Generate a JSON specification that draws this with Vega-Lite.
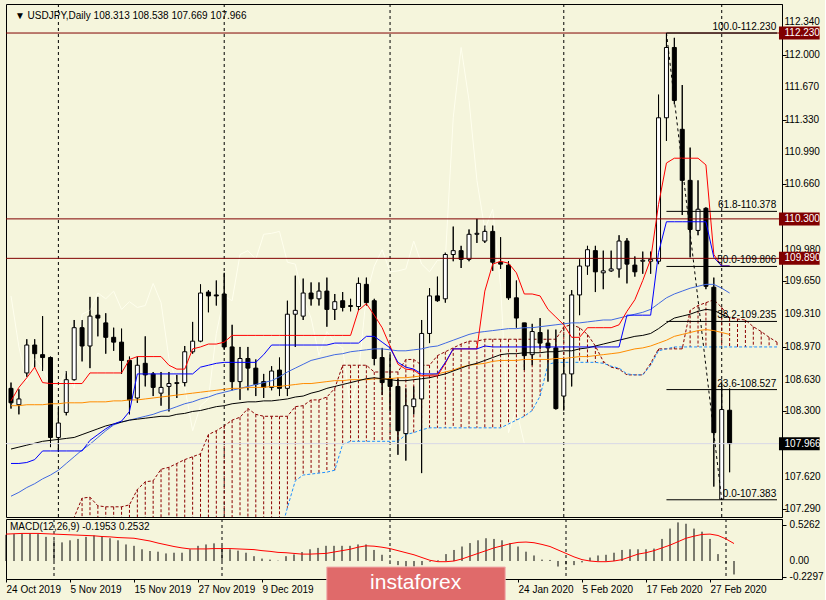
{
"$schema": "https://vega.github.io/schema/vega-lite/v6.json",
"background": "#f5f5dc",
"padding": {"left": 3, "top": 3, "right": 0, "bottom": 0},
"spacing": 0,
"datasets": {
"bars": [
{"i":0,"o":108.54,"h":108.60,"l":108.33,"c":108.39,"tk":108.41,"kj":107.76,"m1":107.42,"m2":108.36,"m3":107.91,"ch":109.50,"md":0.38,"sg":0.39},
{"i":1,"o":108.37,"h":108.53,"l":108.27,"c":108.43,"tk":108.55,"kj":107.76,"m1":107.46,"m2":108.36,"m3":107.93,"ch":108.97,"md":0.39,"sg":0.395},
{"i":2,"o":108.70,"h":109.05,"l":108.66,"c":108.99,"tk":108.65,"kj":107.77,"m1":107.51,"m2":108.37,"m3":107.95,"ch":108.61,"md":0.40,"sg":0.40},
{"i":3,"o":108.99,"h":109.05,"l":108.76,"c":108.90,"tk":108.76,"kj":107.80,"m1":107.55,"m2":108.37,"m3":107.97,"ch":108.85,"md":0.40,"sg":0.40},
{"i":4,"o":108.89,"h":109.29,"l":108.72,"c":108.86,"tk":108.60,"kj":107.89,"m1":107.60,"m2":108.37,"m3":107.99,"ch":108.75,"md":0.39,"sg":0.40},
{"i":5,"o":108.86,"h":108.87,"l":107.93,"c":108.03,"tk":108.59,"kj":107.89,"m1":107.64,"m2":108.38,"m3":108.00,"ch":108.58,"md":0.35,"sg":0.395},
{"i":6,"o":108.03,"h":108.34,"l":107.88,"c":108.18,"tk":108.59,"kj":107.89,"m1":107.69,"m2":108.38,"m3":108.01,"ch":108.55,"md":0.30,"sg":0.39},
{"i":7,"o":108.29,"h":108.72,"l":108.26,"c":108.63,"tk":108.59,"kj":107.89,"m1":107.76,"m2":108.39,"m3":108.02,"ch":108.72,"md":0.27,"sg":0.385},
{"i":8,"o":108.63,"h":109.25,"l":108.62,"c":109.17,"tk":108.59,"kj":107.89,"m1":107.83,"m2":108.39,"m3":108.03,"ch":108.54,"md":0.30,"sg":0.38},
{"i":9,"o":109.17,"h":109.25,"l":108.82,"c":108.98,"tk":108.59,"kj":107.89,"m1":107.90,"m2":108.39,"m3":108.06,"ch":109.31,"md":0.32,"sg":0.375},
{"i":10,"o":108.98,"h":109.49,"l":108.75,"c":109.29,"tk":108.70,"kj":108.00,"m1":107.96,"m2":108.40,"m3":108.09,"ch":109.35,"md":0.35,"sg":0.37},
{"i":11,"o":109.30,"h":109.49,"l":109.08,"c":109.27,"tk":108.70,"kj":108.06,"m1":108.03,"m2":108.40,"m3":108.12,"ch":109.53,"md":0.37,"sg":0.365},
{"i":12,"o":109.22,"h":109.32,"l":108.90,"c":109.07,"tk":108.70,"kj":108.12,"m1":108.10,"m2":108.40,"m3":108.15,"ch":109.47,"md":0.36,"sg":0.355},
{"i":13,"o":109.07,"h":109.17,"l":108.93,"c":109.02,"tk":108.70,"kj":108.17,"m1":108.16,"m2":108.41,"m3":108.17,"ch":109.55,"md":0.33,"sg":0.35},
{"i":14,"o":109.02,"h":109.16,"l":108.69,"c":108.83,"tk":108.70,"kj":108.20,"m1":108.19,"m2":108.41,"m3":108.19,"ch":109.36,"md":0.30,"sg":0.34},
{"i":15,"o":108.83,"h":108.87,"l":108.27,"c":108.42,"tk":108.84,"kj":108.30,"m1":108.21,"m2":108.42,"m3":108.21,"ch":109.44,"md":0.24,"sg":0.335},
{"i":16,"o":108.44,"h":108.87,"l":108.39,"c":108.78,"tk":108.87,"kj":108.69,"m1":108.23,"m2":108.42,"m3":108.22,"ch":109.38,"md":0.22,"sg":0.33},
{"i":17,"o":108.80,"h":109.08,"l":108.56,"c":108.68,"tk":108.87,"kj":108.69,"m1":108.25,"m2":108.43,"m3":108.23,"ch":109.40,"md":0.17,"sg":0.31},
{"i":18,"o":108.69,"h":108.71,"l":108.46,"c":108.55,"tk":108.87,"kj":108.69,"m1":108.27,"m2":108.44,"m3":108.24,"ch":109.63,"md":0.145,"sg":0.29},
{"i":19,"o":108.49,"h":108.71,"l":108.36,"c":108.55,"tk":108.87,"kj":108.69,"m1":108.30,"m2":108.45,"m3":108.25,"ch":109.43,"md":0.135,"sg":0.26},
{"i":20,"o":108.56,"h":108.71,"l":108.30,"c":108.59,"tk":108.78,"kj":108.69,"m1":108.32,"m2":108.46,"m3":108.25,"ch":108.85,"md":0.11,"sg":0.235},
{"i":21,"o":108.59,"h":108.68,"l":108.44,"c":108.60,"tk":108.74,"kj":108.69,"m1":108.35,"m2":108.47,"m3":108.27,"ch":108.60,"md":0.12,"sg":0.21},
{"i":22,"o":108.60,"h":108.98,"l":108.56,"c":108.92,"tk":108.74,"kj":108.69,"m1":108.38,"m2":108.48,"m3":108.28,"ch":108.56,"md":0.12,"sg":0.19},
{"i":23,"o":108.92,"h":109.23,"l":108.90,"c":109.03,"tk":108.95,"kj":108.69,"m1":108.40,"m2":108.49,"m3":108.30,"ch":108.10,"md":0.17,"sg":0.175},
{"i":24,"o":109.03,"h":109.62,"l":109.02,"c":109.53,"tk":108.97,"kj":108.76,"m1":108.43,"m2":108.50,"m3":108.31,"ch":108.36,"md":0.22,"sg":0.175},
{"i":25,"o":109.54,"h":109.56,"l":109.33,"c":109.50,"tk":109.00,"kj":108.78,"m1":108.45,"m2":108.51,"m3":108.33,"ch":108.43,"md":0.24,"sg":0.175},
{"i":26,"o":109.51,"h":109.66,"l":109.40,"c":109.50,"tk":109.00,"kj":108.80,"m1":108.48,"m2":108.52,"m3":108.35,"ch":109.11,"md":0.256,"sg":0.18},
{"i":27,"o":109.52,"h":109.74,"l":108.94,"c":108.97,"tk":109.02,"kj":108.81,"m1":108.50,"m2":108.53,"m3":108.36,"ch":109.50,"md":0.22,"sg":0.18},
{"i":28,"o":108.97,"h":109.20,"l":108.52,"c":108.61,"tk":109.09,"kj":108.81,"m1":108.52,"m2":108.54,"m3":108.38,"ch":109.45,"md":0.17,"sg":0.18},
{"i":29,"o":108.61,"h":108.97,"l":108.42,"c":108.85,"tk":109.09,"kj":108.81,"m1":108.54,"m2":108.54,"m3":108.39,"ch":109.93,"md":0.15,"sg":0.175},
{"i":30,"o":108.85,"h":108.97,"l":108.52,"c":108.75,"tk":109.09,"kj":108.81,"m1":108.56,"m2":108.55,"m3":108.40,"ch":109.97,"md":0.12,"sg":0.17},
{"i":31,"o":108.75,"h":108.84,"l":108.46,"c":108.58,"tk":109.09,"kj":108.81,"m1":108.58,"m2":108.55,"m3":108.40,"ch":109.88,"md":0.07,"sg":0.165},
{"i":32,"o":108.61,"h":108.69,"l":108.44,"c":108.55,"tk":109.09,"kj":108.89,"m1":108.60,"m2":108.55,"m3":108.41,"ch":110.14,"md":0.035,"sg":0.15},
{"i":33,"o":108.55,"h":108.77,"l":108.52,"c":108.72,"tk":109.09,"kj":108.99,"m1":108.62,"m2":108.56,"m3":108.41,"ch":110.15,"md":0.02,"sg":0.14},
{"i":34,"o":108.73,"h":108.86,"l":108.46,"c":108.54,"tk":109.09,"kj":108.99,"m1":108.66,"m2":108.56,"m3":108.42,"ch":110.17,"md":0.005,"sg":0.125},
{"i":35,"o":108.54,"h":109.45,"l":108.46,"c":109.31,"tk":109.09,"kj":108.99,"m1":108.71,"m2":108.57,"m3":108.43,"ch":109.85,"md":0.07,"sg":0.12},
{"i":36,"o":109.31,"h":109.71,"l":108.97,"c":109.35,"tk":109.09,"kj":108.99,"m1":108.75,"m2":108.58,"m3":108.45,"ch":109.83,"md":0.095,"sg":0.11},
{"i":37,"o":109.29,"h":109.68,"l":109.25,"c":109.53,"tk":109.09,"kj":108.99,"m1":108.79,"m2":108.59,"m3":108.46,"ch":109.48,"md":0.13,"sg":0.10},
{"i":38,"o":109.53,"h":109.64,"l":109.40,"c":109.47,"tk":109.09,"kj":108.99,"m1":108.83,"m2":108.59,"m3":108.49,"ch":109.27,"md":0.17,"sg":0.10},
{"i":39,"o":109.47,"h":109.64,"l":109.40,"c":109.55,"tk":109.09,"kj":108.99,"m1":108.85,"m2":108.60,"m3":108.51,"ch":108.88,"md":0.19,"sg":0.105},
{"i":40,"o":109.55,"h":109.69,"l":109.18,"c":109.36,"tk":109.09,"kj":108.99,"m1":108.87,"m2":108.61,"m3":108.54,"ch":109.13,"md":0.22,"sg":0.11},
{"i":41,"o":109.36,"h":109.52,"l":109.25,"c":109.44,"tk":109.09,"kj":109.01,"m1":108.89,"m2":108.62,"m3":108.56,"ch":109.01,"md":0.22,"sg":0.13},
{"i":42,"o":109.45,"h":109.54,"l":109.34,"c":109.38,"tk":109.09,"kj":109.01,"m1":108.90,"m2":108.62,"m3":108.58,"ch":108.96,"md":0.22,"sg":0.15},
{"i":43,"o":109.39,"h":109.47,"l":109.34,"c":109.40,"tk":109.09,"kj":109.01,"m1":108.92,"m2":108.63,"m3":108.60,"ch":108.33,"md":0.22,"sg":0.17},
{"i":44,"o":109.39,"h":109.69,"l":109.35,"c":109.63,"tk":109.35,"kj":109.01,"m1":108.93,"m2":108.63,"m3":108.62,"ch":108.69,"md":0.24,"sg":0.20},
{"i":45,"o":109.62,"h":109.69,"l":109.40,"c":109.43,"tk":109.42,"kj":109.08,"m1":108.94,"m2":108.63,"m3":108.64,"ch":109.51,"md":0.24,"sg":0.22},
{"i":46,"o":109.45,"h":109.47,"l":108.78,"c":108.85,"tk":109.30,"kj":109.08,"m1":108.95,"m2":108.64,"m3":108.65,"ch":109.81,"md":0.16,"sg":0.215},
{"i":47,"o":108.86,"h":108.96,"l":108.47,"c":108.60,"tk":109.17,"kj":109.02,"m1":108.95,"m2":108.64,"m3":108.64,"ch":109.98,"md":0.09,"sg":0.20},
{"i":48,"o":108.64,"h":108.89,"l":108.30,"c":108.56,"tk":108.98,"kj":108.96,"m1":108.94,"m2":108.64,"m3":108.63,"ch":109.75,"md":0.01,"sg":0.18},
{"i":49,"o":108.56,"h":108.64,"l":107.85,"c":108.10,"tk":108.79,"kj":108.81,"m1":108.93,"m2":108.65,"m3":108.62,"ch":109.76,"md":-0.06,"sg":0.15},
{"i":50,"o":108.07,"h":108.54,"l":107.79,"c":108.36,"tk":108.74,"kj":108.76,"m1":108.93,"m2":108.65,"m3":108.62,"ch":109.78,"md":-0.08,"sg":0.12},
{"i":51,"o":108.35,"h":108.56,"l":108.27,"c":108.43,"tk":108.73,"kj":108.74,"m1":108.94,"m2":108.66,"m3":108.63,"ch":110.07,"md":-0.08,"sg":0.09},
{"i":52,"o":108.43,"h":109.25,"l":107.66,"c":109.11,"tk":108.67,"kj":108.69,"m1":108.95,"m2":108.67,"m3":108.64,"ch":109.83,"md":-0.06,"sg":0.05},
{"i":53,"o":109.11,"h":109.58,"l":109.01,"c":109.50,"tk":108.67,"kj":108.69,"m1":108.97,"m2":108.68,"m3":108.65,"ch":109.75,"md":-0.01,"sg":0.01},
{"i":54,"o":109.50,"h":109.70,"l":109.44,"c":109.45,"tk":108.67,"kj":108.69,"m1":108.98,"m2":108.69,"m3":108.67,"ch":109.87,"md":0.01,"sg":-0.01},
{"i":55,"o":109.47,"h":109.95,"l":109.43,"c":109.93,"tk":108.80,"kj":108.81,"m1":109.01,"m2":108.71,"m3":108.69,"ch":109.88,"md":0.10,"sg":-0.01},
{"i":56,"o":109.93,"h":110.22,"l":109.86,"c":109.97,"tk":108.95,"kj":108.95,"m1":109.04,"m2":108.73,"m3":108.72,"ch":111.35,"md":0.16,"sg":0.0},
{"i":57,"o":109.97,"h":110.02,"l":109.79,"c":109.88,"tk":108.95,"kj":108.95,"m1":109.07,"m2":108.76,"m3":108.75,"ch":112.08,"md":0.21,"sg":0.03},
{"i":58,"o":109.88,"h":110.19,"l":109.86,"c":110.14,"tk":108.95,"kj":108.95,"m1":109.10,"m2":108.78,"m3":108.78,"ch":111.53,"md":0.26,"sg":0.07},
{"i":59,"o":110.14,"h":110.30,"l":110.05,"c":110.15,"tk":108.95,"kj":108.95,"m1":109.12,"m2":108.79,"m3":108.80,"ch":110.70,"md":0.30,"sg":0.11},
{"i":60,"o":110.07,"h":110.23,"l":110.05,"c":110.17,"tk":109.55,"kj":108.98,"m1":109.13,"m2":108.80,"m3":108.83,"ch":110.19,"md":0.33,"sg":0.15},
{"i":61,"o":110.17,"h":110.23,"l":109.76,"c":109.85,"tk":109.83,"kj":108.97,"m1":109.14,"m2":108.82,"m3":108.86,"ch":110.40,"md":0.32,"sg":0.19},
{"i":62,"o":109.85,"h":110.11,"l":109.78,"c":109.83,"tk":109.86,"kj":108.97,"m1":109.15,"m2":108.83,"m3":108.89,"ch":109.60,"md":0.30,"sg":0.22},
{"i":63,"o":109.82,"h":109.86,"l":109.46,"c":109.48,"tk":109.84,"kj":108.97,"m1":109.16,"m2":108.83,"m3":108.90,"ch":108.08,"md":0.26,"sg":0.25},
{"i":64,"o":109.48,"h":109.66,"l":109.17,"c":109.27,"tk":109.74,"kj":108.97,"m1":109.16,"m2":108.83,"m3":108.90,"ch":108.32,"md":0.21,"sg":0.27},
{"i":65,"o":109.22,"h":109.22,"l":108.73,"c":108.88,"tk":109.52,"kj":108.97,"m1":109.17,"m2":108.84,"m3":108.91,"ch":107.966,"md":0.135,"sg":0.275},
{"i":66,"o":108.89,"h":109.21,"l":108.78,"c":109.13,"tk":109.52,"kj":108.97,"m1":109.17,"m2":108.84,"m3":108.91,"md":0.08,"sg":0.265},
{"i":67,"o":109.12,"h":109.27,"l":108.95,"c":109.01,"tk":109.50,"kj":108.97,"m1":109.18,"m2":108.84,"m3":108.91,"md":0.02,"sg":0.24},
{"i":68,"o":109.01,"h":109.15,"l":108.61,"c":108.96,"tk":109.36,"kj":108.97,"m1":109.19,"m2":108.84,"m3":108.92,"md":0.015,"sg":0.21},
{"i":69,"o":108.96,"h":109.15,"l":108.32,"c":108.33,"tk":109.28,"kj":108.97,"m1":109.20,"m2":108.85,"m3":108.92,"md":-0.08,"sg":0.16},
{"i":70,"o":108.46,"h":108.85,"l":108.31,"c":108.69,"tk":109.20,"kj":108.97,"m1":109.21,"m2":108.85,"m3":108.93,"md":-0.05,"sg":0.11},
{"i":71,"o":108.69,"h":109.56,"l":108.56,"c":109.51,"tk":109.07,"kj":108.97,"m1":109.22,"m2":108.86,"m3":108.93,"md":-0.06,"sg":0.06},
{"i":72,"o":109.51,"h":109.88,"l":109.30,"c":109.81,"tk":109.07,"kj":108.97,"m1":109.22,"m2":108.87,"m3":108.95,"md":-0.02,"sg":0.02},
{"i":73,"o":109.81,"h":110.02,"l":109.72,"c":109.98,"tk":109.17,"kj":108.97,"m1":109.23,"m2":108.87,"m3":108.96,"md":0.05,"sg":0.0},
{"i":74,"o":109.97,"h":110.02,"l":109.54,"c":109.75,"tk":109.17,"kj":108.97,"m1":109.24,"m2":108.88,"m3":108.98,"md":0.08,"sg":-0.01},
{"i":75,"o":109.74,"h":109.97,"l":109.57,"c":109.76,"tk":109.17,"kj":108.97,"m1":109.25,"m2":108.89,"m3":109.00,"md":0.09,"sg":-0.01},
{"i":76,"o":109.76,"h":109.97,"l":109.75,"c":109.78,"tk":109.17,"kj":108.97,"m1":109.25,"m2":108.90,"m3":109.02,"md":0.12,"sg":0.0},
{"i":77,"o":109.78,"h":110.13,"l":109.69,"c":110.07,"tk":109.20,"kj":108.97,"m1":109.27,"m2":108.91,"m3":109.04,"md":0.16,"sg":0.02},
{"i":78,"o":110.07,"h":110.10,"l":109.63,"c":109.83,"tk":109.34,"kj":109.30,"m1":109.29,"m2":108.93,"m3":109.06,"md":0.17,"sg":0.06},
{"i":79,"o":109.82,"h":109.91,"l":109.70,"c":109.75,"tk":109.46,"kj":109.30,"m1":109.31,"m2":108.95,"m3":109.08,"md":0.17,"sg":0.10},
{"i":80,"o":109.86,"h":109.96,"l":109.73,"c":109.87,"tk":109.66,"kj":109.30,"m1":109.33,"m2":108.96,"m3":109.09,"md":0.17,"sg":0.12},
{"i":81,"o":109.86,"h":109.96,"l":109.73,"c":109.88,"tk":109.88,"kj":109.30,"m1":109.36,"m2":108.98,"m3":109.11,"md":0.18,"sg":0.15},
{"i":82,"o":109.86,"h":111.59,"l":109.83,"c":111.35,"tk":110.45,"kj":109.95,"m1":109.42,"m2":109.01,"m3":109.16,"md":0.32,"sg":0.19},
{"i":83,"o":111.35,"h":112.23,"l":111.11,"c":112.08,"tk":110.88,"kj":110.27,"m1":109.48,"m2":109.04,"m3":109.22,"md":0.47,"sg":0.23},
{"i":84,"o":112.08,"h":112.18,"l":111.49,"c":111.53,"tk":110.93,"kj":110.27,"m1":109.52,"m2":109.08,"m3":109.27,"md":0.56,"sg":0.28},
{"i":85,"o":111.23,"h":111.69,"l":110.34,"c":110.70,"tk":110.93,"kj":110.27,"m1":109.55,"m2":109.10,"m3":109.29,"md":0.54,"sg":0.33},
{"i":86,"o":110.70,"h":111.04,"l":109.90,"c":110.19,"tk":110.93,"kj":110.27,"m1":109.58,"m2":109.12,"m3":109.31,"md":0.47,"sg":0.36},
{"i":87,"o":110.18,"h":110.70,"l":110.13,"c":110.40,"tk":110.93,"kj":110.27,"m1":109.60,"m2":109.14,"m3":109.34,"md":0.425,"sg":0.385},
{"i":88,"o":110.41,"h":110.42,"l":109.57,"c":109.60,"tk":110.86,"kj":110.27,"m1":109.62,"m2":109.15,"m3":109.36,"md":0.32,"sg":0.39},
{"i":89,"o":109.59,"h":109.69,"l":107.52,"c":108.08,"tk":109.93,"kj":109.90,"m1":109.62,"m2":109.14,"m3":109.35,"md":0.10,"sg":0.37},
{"i":90,"o":107.39,"h":108.59,"l":107.383,"c":108.32,"tk":109.81,"kj":109.81,"m1":109.58,"m2":109.12,"m3":109.31,"md":-0.03,"sg":0.32},
{"i":91,"o":108.313,"h":108.538,"l":107.669,"c":107.966,"tk":109.81,"kj":109.81,"m1":109.53,"m2":109.10,"m3":109.27,"md":-0.1953,"sg":0.2532}
],
"cloud": [
{"i":0,"a":107.05,"b":106.9},{"i":1,"a":107.05,"b":106.9},{"i":2,"a":107.05,"b":106.9},{"i":3,"a":107.05,"b":106.9},{"i":4,"a":107.05,"b":106.9},{"i":5,"a":107.05,"b":106.9},{"i":6,"a":107.05,"b":106.9},{"i":7,"a":107.05,"b":106.9},
{"i":8,"a":107.20,"b":106.9},{"i":9,"a":107.40,"b":106.9},{"i":10,"a":107.41,"b":106.9},{"i":11,"a":107.32,"b":106.9},{"i":12,"a":107.31,"b":106.9},{"i":13,"a":107.31,"b":106.9},{"i":14,"a":107.31,"b":106.9},{"i":15,"a":107.33,"b":106.9},
{"i":16,"a":107.49,"b":106.9},{"i":17,"a":107.57,"b":106.9},{"i":18,"a":107.58,"b":106.9},{"i":19,"a":107.70,"b":106.9},{"i":20,"a":107.72,"b":106.9},{"i":21,"a":107.76,"b":106.9},{"i":22,"a":107.80,"b":106.9},{"i":23,"a":107.83,"b":106.9},
{"i":24,"a":107.86,"b":106.9},{"i":25,"a":108.06,"b":106.9},{"i":26,"a":108.10,"b":106.9},{"i":27,"a":108.15,"b":106.9},{"i":28,"a":108.21,"b":106.9},{"i":29,"a":108.24,"b":106.9},{"i":30,"a":108.33,"b":106.9},{"i":31,"a":108.27,"b":106.9},
{"i":32,"a":108.25,"b":106.9},{"i":33,"a":108.25,"b":106.9},{"i":34,"a":108.25,"b":107.0},{"i":35,"a":108.25,"b":107.30},{"i":36,"a":108.35,"b":107.58},{"i":37,"a":108.36,"b":107.64},{"i":38,"a":108.42,"b":107.65},{"i":39,"a":108.42,"b":107.66},
{"i":40,"a":108.45,"b":107.67},{"i":41,"a":108.54,"b":107.69},{"i":42,"a":108.78,"b":107.96},{"i":43,"a":108.78,"b":107.99},{"i":44,"a":108.78,"b":107.99},{"i":45,"a":108.78,"b":107.99},{"i":46,"a":108.71,"b":107.99},{"i":47,"a":108.71,"b":107.99},
{"i":48,"a":108.71,"b":107.99},{"i":49,"a":108.71,"b":107.99},{"i":50,"a":108.84,"b":108.06},{"i":51,"a":108.84,"b":108.08},{"i":52,"a":108.78,"b":108.11},{"i":53,"a":108.78,"b":108.13},{"i":54,"a":108.88,"b":108.13},{"i":55,"a":108.92,"b":108.13},
{"i":56,"a":108.96,"b":108.13},{"i":57,"a":109.00,"b":108.13},{"i":58,"a":109.03,"b":108.13},{"i":59,"a":109.03,"b":108.13},{"i":60,"a":109.05,"b":108.13},{"i":61,"a":109.05,"b":108.13},{"i":62,"a":109.05,"b":108.13},{"i":63,"a":109.05,"b":108.17},
{"i":64,"a":109.05,"b":108.21},{"i":65,"a":109.05,"b":108.25},{"i":66,"a":109.05,"b":108.31},{"i":67,"a":109.05,"b":108.46},{"i":68,"a":109.05,"b":108.79},{"i":69,"a":109.05,"b":108.81},{"i":70,"a":109.18,"b":108.81},{"i":71,"a":109.20,"b":108.81},
{"i":72,"a":109.17,"b":108.81},{"i":73,"a":109.10,"b":108.81},{"i":74,"a":108.98,"b":108.81},{"i":75,"a":108.82,"b":108.80},{"i":76,"a":108.76,"b":108.77},{"i":77,"a":108.74,"b":108.75},{"i":78,"a":108.68,"b":108.69},{"i":79,"a":108.68,"b":108.68},
{"i":80,"a":108.68,"b":108.68},{"i":81,"a":108.80,"b":108.78},{"i":82,"a":108.95,"b":108.93},{"i":83,"a":108.95,"b":108.95},{"i":84,"a":108.95,"b":108.97},{"i":85,"a":108.95,"b":108.97},{"i":86,"a":109.35,"b":108.97},{"i":87,"a":109.40,"b":108.97},
{"i":88,"a":109.43,"b":108.97},{"i":89,"a":109.46,"b":108.97},{"i":90,"a":109.38,"b":108.97},{"i":91,"a":109.27,"b":108.97},{"i":92,"a":109.26,"b":108.97},{"i":93,"a":109.25,"b":108.97},{"i":94,"a":109.18,"b":108.97},{"i":95,"a":109.13,"b":108.97},
{"i":96,"a":109.07,"b":108.97},{"i":97,"a":109.02,"b":108.97}
],
"vgrid": [{"i":6},{"i":27},{"i":48},{"i":70},{"i":90}],
"hl": [{"p":112.23},{"p":110.30},{"p":109.89}],
"fib": [
{"p":112.23,"lab":"100.0-112.230"},{"p":110.378,"lab":"61.8-110.378"},{"p":109.806,"lab":"50.0-109.806"},
{"p":109.235,"lab":"38.2-109.235"},{"p":108.527,"lab":"23.6-108.527"},{"p":107.383,"lab":"0.0-107.383"}
],
"tags": [
{"p":112.23,"lab":"112.230","kind":"lvl"},{"p":110.30,"lab":"110.300","kind":"lvl"},
{"p":109.89,"lab":"109.890","kind":"lvl"},{"p":107.966,"lab":"107.966","kind":"px"}
],
"pticks": [
{"v":112.34},{"v":112.0},{"v":111.67},{"v":111.33},{"v":110.99},{"v":110.66},{"v":109.98},{"v":109.65},{"v":109.31},{"v":108.97},{"v":108.63},{"v":108.30},{"v":107.62},{"v":107.29}
],
"mticks": [{"v":0.5262,"lab":"0.5262"},{"v":0,"lab":"0.00"},{"v":-0.2297,"lab":"-0.2297"}]
},
"resolve": {"scale": {"x": "independent", "y": "independent"}},
"vconcat": [
{
"width": 776, "height": 513,
"layer": [
{"data":{"name":"vgrid"},"mark":{"type":"rule","color":"#000000","strokeWidth":1,"strokeDash":[3,3]},
 "encoding":{"x":{"field":"i","type":"quantitative","scale":{"domain":[0,97],"nice":false,"zero":false},"axis":null,"title":null}}},
{"data":{"name":"bars"},"mark":{"type":"rule","color":"#000000","strokeWidth":1,"clip":true},
 "encoding":{"x":{"field":"i","type":"quantitative","scale":{"domain":[0,97],"nice":false,"zero":false},"axis":null,"title":null},
 "y":{"field":"l","type":"quantitative","scale":{"domain":[107.256,112.4795],"nice":false,"zero":false},"title":null,
   "axis":{"orient":"right","values":[112.34,112.0,111.67,111.33,110.99,110.66,109.98,109.65,109.31,108.97,108.63,108.30,107.62,107.29],"labels":false,"tickSize":4,"domain":true,"grid":false,"title":null}},
 "y2":{"field":"h"}}},
{"data":{"name":"bars"},"mark":{"type":"line","color":"#ffffee","strokeWidth":1,"clip":true},
 "encoding":{"x":{"field":"i","type":"quantitative","scale":{"domain":[0,97],"nice":false,"zero":false},"axis":null,"title":null},
 "y":{"field":"ch","type":"quantitative","title":null}}},
{"data":{"name":"cloud"},"mark":{"type":"rule","color":"#8b0000","strokeWidth":1,"strokeDash":[3,2],"clip":true},
 "encoding":{"x":{"field":"i","type":"quantitative","axis":null,"title":null},
 "y":{"field":"a","type":"quantitative","title":null},
 "y2":{"field":"b"}}},
{"data":{"name":"cloud"},"mark":{"type":"line","color":"#8b0000","strokeWidth":1,"strokeDash":[3,2],"clip":true},
 "encoding":{"x":{"field":"i","type":"quantitative","axis":null,"title":null},
 "y":{"field":"a","type":"quantitative","title":null}}},
{"data":{"name":"cloud"},"mark":{"type":"line","color":"#1e90ff","strokeWidth":1,"strokeDash":[3,2],"clip":true},
 "encoding":{"x":{"field":"i","type":"quantitative","axis":null,"title":null},
 "y":{"field":"b","type":"quantitative","title":null}}},
{"data":{"name":"bars"},"mark":{"type":"rule","color":"#000000","strokeWidth":1,"clip":true},
 "encoding":{"x":{"field":"i","type":"quantitative","axis":null,"title":null},
 "y":{"field":"l","type":"quantitative","title":null},
 "y2":{"field":"h"}}},
{"data":{"name":"bars"},"mark":{"type":"bar","orient":"vertical","width":4,"stroke":"#000000","strokeWidth":1,"clip":true},
 "encoding":{"x":{"field":"i","type":"quantitative","axis":null,"title":null},
 "y":{"field":"o","type":"quantitative","title":null},
 "y2":{"field":"c"},
 "fill":{"condition":{"test":"datum.c >= datum.o","value":"#ffffff"},"value":"#000000"}}},
{"data":{"name":"bars"},"mark":{"type":"line","color":"#4169e1","strokeWidth":1,"clip":true},
 "encoding":{"x":{"field":"i","type":"quantitative","axis":null,"title":null},
 "y":{"field":"m1","type":"quantitative","title":null}}},
{"data":{"name":"bars"},"mark":{"type":"line","color":"#ff8c00","strokeWidth":1,"clip":true},
 "encoding":{"x":{"field":"i","type":"quantitative","axis":null,"title":null},
 "y":{"field":"m2","type":"quantitative","title":null}}},
{"data":{"name":"bars"},"mark":{"type":"line","color":"#000000","strokeWidth":1,"clip":true},
 "encoding":{"x":{"field":"i","type":"quantitative","axis":null,"title":null},
 "y":{"field":"m3","type":"quantitative","title":null}}},
{"data":{"name":"bars"},"mark":{"type":"line","color":"#ff0000","strokeWidth":1,"clip":true},
 "encoding":{"x":{"field":"i","type":"quantitative","axis":null,"title":null},
 "y":{"field":"tk","type":"quantitative","title":null}}},
{"data":{"name":"bars"},"mark":{"type":"line","color":"#0000ff","strokeWidth":1,"clip":true},
 "encoding":{"x":{"field":"i","type":"quantitative","axis":null,"title":null},
 "y":{"field":"kj","type":"quantitative","title":null}}},
{"data":{"name":"hl"},"mark":{"type":"rule","color":"#800000","strokeWidth":1},
 "encoding":{"y":{"field":"p","type":"quantitative","title":null}}},
{"data":{"values":[{}]},"mark":{"type":"rule","color":"#d9d9e6","strokeWidth":1},
 "encoding":{"y":{"datum":107.966,"type":"quantitative","title":null}}},
{"data":{"name":"fib"},"mark":{"type":"rule","color":"#000000","strokeWidth":1},
 "encoding":{"x":{"datum":83,"type":"quantitative","axis":null,"title":null},
 "x2":{"datum":97},
 "y":{"field":"p","type":"quantitative","title":null}}},
{"data":{"values":[{}]},"mark":{"type":"rule","color":"#000000","strokeWidth":1,"strokeDash":[3,3]},
 "encoding":{"x":{"datum":83,"type":"quantitative","axis":null,"title":null},
 "x2":{"datum":90},
 "y":{"datum":112.23,"type":"quantitative","title":null},
 "y2":{"datum":107.383}}},
{"data":{"name":"fib"},"mark":{"type":"text","align":"right","baseline":"bottom","dy":-1,"font":"Liberation Sans","fontSize":10,"color":"#000000"},
 "encoding":{"x":{"datum":96.9,"type":"quantitative","axis":null,"title":null},
 "y":{"field":"p","type":"quantitative","title":null},
 "text":{"field":"lab"}}},
{"data":{"values":[{}]},"mark":{"type":"text","align":"left","baseline":"middle","font":"Liberation Sans","fontSize":10,"color":"#000000"},
 "encoding":{"x":{"datum":0.5,"type":"quantitative","axis":null,"title":null},
 "y":{"datum":112.405,"type":"quantitative","title":null},
 "text":{"value":"▼ USDJPY,Daily  108.313 108.538 107.669 107.966"}}},
{"data":{"name":"pticks"},"mark":{"type":"text","align":"left","baseline":"middle","font":"Liberation Sans","fontSize":10,"color":"#000000"},
 "encoding":{"x":{"datum":97.95,"type":"quantitative","axis":null,"title":null},
 "y":{"field":"v","type":"quantitative","title":null},
 "text":{"field":"v","format":".3f"}}},
{"data":{"name":"tags"},"mark":{"type":"bar","orient":"horizontal","height":13},
 "encoding":{"x":{"datum":97.25,"type":"quantitative","axis":null,"title":null},
 "x2":{"datum":102.4},
 "y":{"field":"p","type":"quantitative","title":null},
 "color":{"field":"kind","type":"nominal","scale":{"domain":["lvl","px"],"range":["#800000","#000000"]},"legend":null}}},
{"data":{"name":"tags"},"mark":{"type":"text","align":"left","baseline":"middle","font":"Liberation Sans","fontSize":10,"color":"#ffffff"},
 "encoding":{"x":{"datum":97.95,"type":"quantitative","axis":null,"title":null},
 "y":{"field":"p","type":"quantitative","title":null},
 "text":{"field":"lab"}}}
]
},
{
"width": 776, "height": 60,
"layer": [
{"data":{"name":"bars"},"mark":{"type":"rule","color":"#000000","strokeWidth":1},
 "encoding":{"x":{"field":"i","type":"quantitative","scale":{"domain":[0,97],"nice":false,"zero":false},"title":null,
   "axis":{"values":[0,8,16,24,32,64,72,80,88],"labelAlign":"left","tickSize":3,"labelPadding":2,"domain":false,"grid":false,"title":null,"labelFlush":false,
   "labelExpr":"datum.value==0?'24 Oct 2019':datum.value==8?'5 Nov 2019':datum.value==16?'15 Nov 2019':datum.value==24?'27 Nov 2019':datum.value==32?'9 Dec 2019':datum.value==64?'24 Jan 2020':datum.value==72?'5 Feb 2020':datum.value==80?'17 Feb 2020':datum.value==88?'27 Feb 2020':''"}},
 "y":{"field":"md","type":"quantitative","scale":{"domain":[-0.261,0.609],"nice":false,"zero":false},"title":null,
   "axis":{"orient":"right","values":[0.5262,0,-0.2297],"labels":false,"tickSize":4,"grid":false,"title":null}},
 "y2":{"datum":0}}},
{"data":{"name":"vgrid"},"mark":{"type":"rule","color":"#000000","strokeWidth":1,"strokeDash":[3,3]},
 "encoding":{"x":{"field":"i","type":"quantitative","title":null}}},
{"data":{"name":"bars"},"mark":{"type":"line","color":"#ff0000","strokeWidth":1},
 "encoding":{"x":{"field":"i","type":"quantitative","title":null},
 "y":{"field":"sg","type":"quantitative","title":null}}},
{"data":{"values":[{}]},"mark":{"type":"text","align":"left","baseline":"middle","font":"Liberation Sans","fontSize":10,"color":"#000000"},
 "encoding":{"x":{"datum":0.5,"type":"quantitative","title":null},
 "y":{"datum":0.49,"type":"quantitative","title":null},
 "text":{"value":"MACD(12,26,9) -0.1953 0.2532"}}},
{"data":{"name":"mticks"},"mark":{"type":"text","align":"left","baseline":"middle","font":"Liberation Sans","fontSize":10,"color":"#000000"},
 "encoding":{"x":{"datum":97.95,"type":"quantitative","title":null},
 "y":{"field":"v","type":"quantitative","title":null},
 "text":{"field":"lab"}}},
{"data":{"values":[{}]},"mark":{"type":"rect","color":"#e06a6a","stroke":"#f0b0b0","strokeWidth":1},
 "encoding":{"x":{"datum":40.1,"type":"quantitative","title":null},
 "x2":{"datum":62.4},
 "y":{"datum":-0.087,"type":"quantitative","title":null},
 "y2":{"datum":-0.58}}},
{"data":{"values":[{}]},"mark":{"type":"text","align":"center","baseline":"middle","font":"Liberation Sans","fontSize":21,"color":"#ffffff"},
 "encoding":{"x":{"datum":51.2,"type":"quantitative","title":null},
 "y":{"datum":-0.32,"type":"quantitative","title":null},
 "text":{"value":"instaforex"}}}
]
}
],
"config": {
"view": {"stroke": "#000000", "strokeWidth": 1},
"axis": {"labelFont": "Liberation Sans", "labelFontSize": 10, "labelColor": "#000000", "tickColor": "#000000", "domainColor": "#000000", "grid": false},
"text": {"font": "Liberation Sans", "fontSize": 10}
}
}
